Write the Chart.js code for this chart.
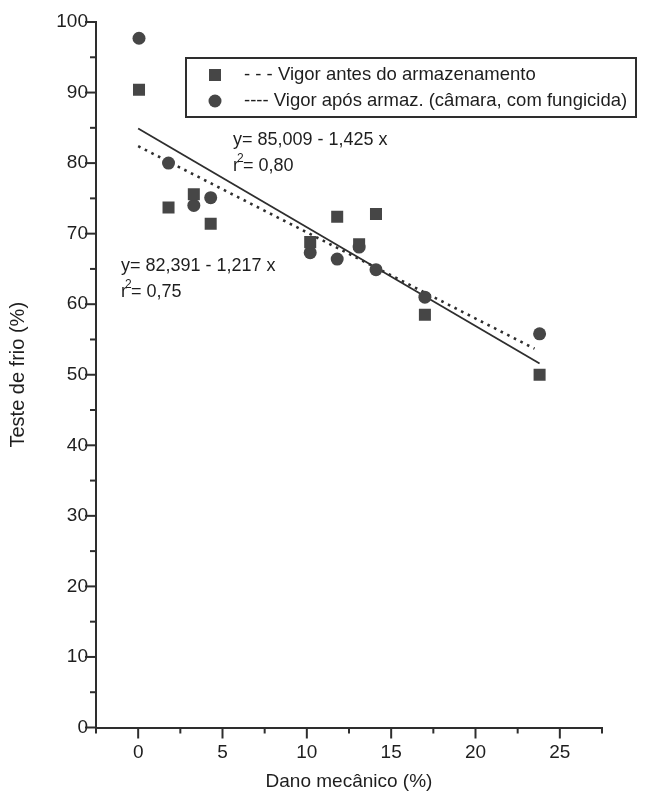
<!DOCTYPE html>
<html>
<head>
<meta charset="utf-8">
<script src="https://cdn.jsdelivr.net/npm/chart.js@4"></script>
<style>
  html, body { margin: 0; padding: 0; background: #fff; }
  canvas { display: block; }
</style>
</head>
<body>
<canvas id="chart" width="668" height="793"></canvas>
<script>
// values
const damage = [0.05, 1.8, 3.3, 4.3, 10.2, 11.8, 13.1, 14.1, 17.0, 23.8];
const vigorBefore = [90.4, 73.7, 75.6, 71.4, 68.8, 72.4, 68.5, 72.8, 58.5, 50.0];
const vigorAfter = [97.7, 80.0, 74.0, 75.1, 67.3, 66.4, 68.1, 64.9, 61.0, 55.8];
// fitted lines, end points as drawn
const fitBeforeX = [0, 23.5];
const fitBeforeY = [82.4, 53.7];
const fitAfterX = [0, 23.8];
const fitAfterY = [84.9, 51.6];

const legendLabels = ['- - - Vigor antes do armazenamento', '---- Vigor após armaz. (câmara, com fungicida)'];
const eqAfter = ['y= 85,009 - 1,425 x', '0,80'];
const eqBefore = ['y= 82,391 - 1,217 x', '0,75'];

const ink = '#2e2e2e';
const txt = '#1e1e1e';
const markFill = '#464646';
const font = '"Liberation Sans", Arial, sans-serif';

const pts = (xs, ys) => xs.map((x, i) => ({ x: x, y: ys[i] }));

// minor / major tick marks drawn outward from both axes
const tickMarks = {
  id: 'tickMarks',
  afterDraw(chart) {
    const ctx = chart.ctx;
    const xs = chart.scales.x, ys = chart.scales.y;
    ctx.save();
    ctx.strokeStyle = ink;
    ctx.lineWidth = 2;
    ys.ticks.forEach(t => {
      const py = ys.getPixelForValue(t.value);
      const len = t.value % 10 === 0 ? 11 : 6;
      ctx.beginPath();
      ctx.moveTo(ys.right, py);
      ctx.lineTo(ys.right - len, py);
      ctx.stroke();
    });
    xs.ticks.forEach(t => {
      const px = xs.getPixelForValue(t.value);
      const len = t.value % 5 === 0 ? 11 : 6;
      ctx.beginPath();
      ctx.moveTo(px, xs.top);
      ctx.lineTo(px, xs.top + len);
      ctx.stroke();
    });
    ctx.restore();
  }
};

function drawR2(ctx, x, y, val) {
  ctx.font = '18px ' + font;
  ctx.fillText('r', x, y);
  const w = ctx.measureText('r').width;
  ctx.font = '12px ' + font;
  ctx.fillText('2', x + w - 2, y - 7);
  ctx.font = '18px ' + font;
  ctx.fillText('= ' + val, x + w + 4, y);
}

const notes = {
  id: 'notes',
  afterDraw(chart) {
    const ctx = chart.ctx;
    ctx.save();
    // legend box
    ctx.strokeStyle = ink;
    ctx.lineWidth = 2;
    ctx.strokeRect(186, 58, 450, 59);
    ctx.fillStyle = markFill;
    ctx.fillRect(209, 69, 12, 12);
    ctx.beginPath();
    ctx.arc(215, 101, 6.5, 0, Math.PI * 2);
    ctx.fill();
    ctx.fillStyle = txt;
    ctx.font = '18.5px ' + font;
    ctx.textBaseline = 'middle';
    ctx.fillText(legendLabels[0], 244, 75);
    ctx.fillText(legendLabels[1], 244, 101);
    // equations
    ctx.font = '18px ' + font;
    ctx.fillText(eqAfter[0], 233, 140);
    drawR2(ctx, 233, 166, eqAfter[1]);
    ctx.fillText(eqBefore[0], 121, 266);
    drawR2(ctx, 121, 292, eqBefore[1]);
    ctx.restore();
  }
};

new Chart(document.getElementById('chart'), {
  type: 'scatter',
  data: {
    datasets: [
      {
        label: 'Vigor antes do armazenamento',
        data: pts(damage, vigorBefore),
        pointStyle: 'rect',
        pointRadius: 8.5,
        backgroundColor: markFill,
        borderColor: markFill,
        borderWidth: 0,
        order: 0
      },
      {
        label: 'Vigor após armaz. (câmara, com fungicida)',
        data: pts(damage, vigorAfter),
        pointStyle: 'circle',
        pointRadius: 6.5,
        backgroundColor: markFill,
        borderColor: markFill,
        borderWidth: 0,
        order: 0
      },
      {
        type: 'line',
        data: pts(fitBeforeX, fitBeforeY),
        borderColor: ink,
        borderWidth: 2.6,
        borderDash: [2.6, 4.8],
        pointRadius: 0,
        fill: false,
        order: 1
      },
      {
        type: 'line',
        data: pts(fitAfterX, fitAfterY),
        borderColor: ink,
        borderWidth: 1.8,
        pointRadius: 0,
        fill: false,
        order: 1
      }
    ]
  },
  options: {
    responsive: false,
    animation: false,
    layout: { padding: { top: 22, right: 66, left: 0, bottom: 0 } },
    plugins: { legend: { display: false }, tooltip: { enabled: false } },
    scales: {
      x: {
        type: 'linear',
        min: -2.5,
        max: 27.5,
        afterFit: s => { s.height = 65.5; },
        border: { color: ink, width: 2 },
        grid: { drawOnChartArea: false, drawTicks: false },
        ticks: {
          stepSize: 2.5,
          padding: 14,
          color: txt,
          font: { family: font, size: 19 },
          callback: v => (v % 5 === 0 && v >= 0 ? v : '')
        },
        title: {
          display: true,
          text: 'Dano mecânico (%)',
          color: txt,
          font: { family: font, size: 19 },
          padding: { top: 0, bottom: 0 }
        }
      },
      y: {
        min: 0,
        max: 100,
        afterFit: s => { s.width = 96; },
        border: { color: ink, width: 2 },
        grid: { drawOnChartArea: false, drawTicks: false },
        ticks: {
          stepSize: 5,
          padding: 8,
          color: txt,
          font: { family: font, size: 19 },
          callback: v => (v % 10 === 0 ? v : '')
        },
        title: {
          display: true,
          text: 'Teste de frio (%)',
          color: txt,
          font: { family: font, size: 20 },
          padding: { top: 6, bottom: 0 }
        }
      }
    }
  },
  plugins: [tickMarks, notes]
});
</script>
</body>
</html>
